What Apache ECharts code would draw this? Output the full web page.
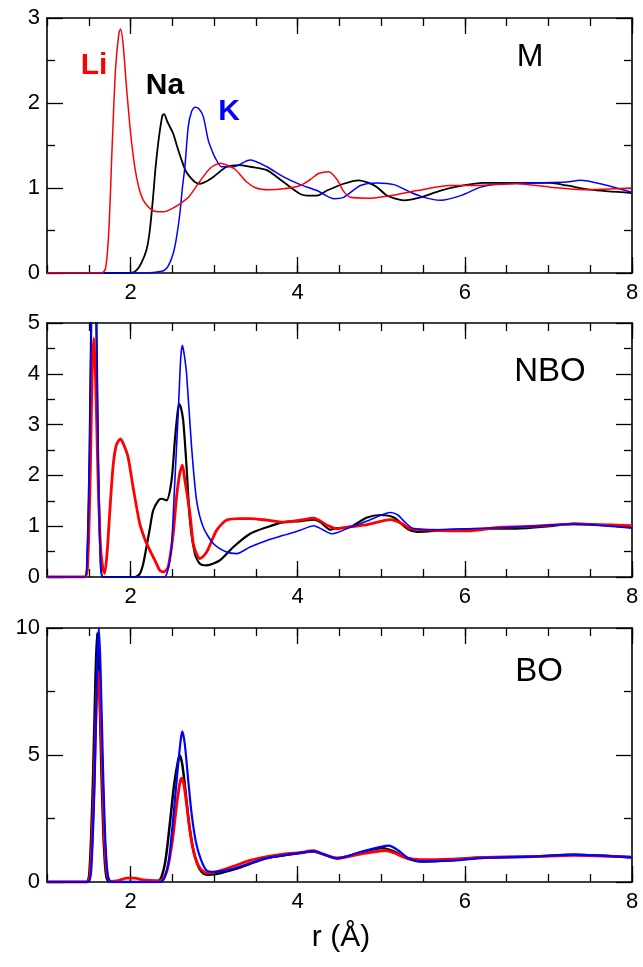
<!DOCTYPE html>
<html>
<head>
<meta charset="utf-8">
<script src="https://cdn.jsdelivr.net/npm/echarts@6/dist/echarts.min.js"></script>
<style>
html,body{margin:0;padding:0;background:#fff;}
#c{width:643px;height:967px;}
</style>
</head>
<body>
<div id="c"></div>
<script>
// ---- Data (r in Å, g(r)) ----
const xLabelValues = [2, 4, 6, 8];
const panelNames = ['M', 'NBO', 'BO'];
const yMaxes = [3, 5, 10];
const yIntervals = [1, 1, 5];

// Panel M
const mLi = [[1.0,0],[1.65,0],[1.70,0.05],[1.74,0.5],[1.78,1.5],[1.82,2.4],[1.86,2.82],[1.88,2.87],[1.91,2.7],[1.95,2.2],[2.0,1.65],[2.05,1.25],[2.10,1.0],[2.15,0.86],[2.23,0.76],[2.32,0.72],[2.40,0.72],[2.50,0.76],[2.60,0.82],[2.70,0.9],[2.83,1.08],[2.95,1.23],[3.07,1.29],[3.15,1.27],[3.25,1.22],[3.39,1.07],[3.50,1.0],[3.65,0.98],[3.83,0.99],[4.03,1.03],[4.15,1.1],[4.25,1.17],[4.37,1.19],[4.47,1.1],[4.55,0.96],[4.63,0.89],[4.83,0.88],[5.11,0.91],[5.43,0.97],[5.82,1.03],[6.14,1.03],[6.62,1.05],[7.02,1.01],[7.42,0.98],[8.0,1.0]];
const mNa = [[1.0,0],[2.0,0],[2.07,0.03],[2.13,0.12],[2.19,0.27],[2.23,0.5],[2.27,0.9],[2.30,1.25],[2.34,1.6],[2.38,1.85],[2.40,1.87],[2.44,1.78],[2.51,1.64],[2.56,1.48],[2.61,1.33],[2.66,1.2],[2.71,1.13],[2.77,1.07],[2.83,1.05],[2.91,1.08],[2.99,1.13],[3.15,1.25],[3.3,1.27],[3.43,1.25],[3.63,1.21],[3.83,1.07],[4.03,0.93],[4.15,0.91],[4.23,0.91],[4.35,0.97],[4.55,1.05],[4.73,1.09],[4.85,1.06],[4.95,1.01],[5.07,0.91],[5.27,0.855],[5.47,0.89],[5.71,0.97],[5.98,1.03],[6.22,1.06],[6.62,1.06],[7.02,1.06],[7.22,1.03],[7.50,0.98],[8.0,0.94]];
const mK = [[1.0,0],[2.1,0],[2.3,0.01],[2.40,0.03],[2.45,0.08],[2.51,0.23],[2.55,0.42],[2.59,0.70],[2.62,1.0],[2.65,1.25],[2.69,1.72],[2.73,1.9],[2.77,1.95],[2.82,1.93],[2.87,1.84],[2.93,1.56],[2.97,1.45],[3.01,1.36],[3.09,1.25],[3.23,1.25],[3.43,1.33],[3.63,1.25],[3.83,1.13],[4.03,1.04],[4.23,0.97],[4.43,0.875],[4.55,0.89],[4.75,1.03],[4.95,1.06],[5.15,1.04],[5.35,0.95],[5.51,0.89],[5.71,0.855],[5.95,0.91],[6.19,1.01],[6.43,1.05],[6.82,1.06],[7.22,1.07],[7.38,1.09],[7.62,1.05],[8.0,0.95]];

// Panel NBO
const nboLi = [[1.0,0],[1.45,0],[1.49,0.4],[1.52,2.2],[1.54,4.0],[1.56,4.7],[1.58,4.0],[1.61,2.0],[1.64,0.6],[1.67,0.15],[1.69,0.07],[1.72,0.5],[1.75,1.25],[1.79,2.17],[1.83,2.6],[1.88,2.72],[1.92,2.6],[1.97,2.36],[2.03,1.77],[2.11,1.05],[2.17,0.75],[2.23,0.53],[2.30,0.3],[2.35,0.13],[2.40,0.1],[2.45,0.2],[2.51,0.85],[2.55,1.57],[2.59,2.05],[2.62,2.2],[2.65,1.9],[2.67,1.7],[2.71,1.25],[2.75,0.66],[2.79,0.45],[2.83,0.36],[2.91,0.49],[3.03,0.92],[3.15,1.12],[3.30,1.15],[3.43,1.15],[3.63,1.12],[3.83,1.08],[4.03,1.12],[4.19,1.16],[4.35,1.02],[4.47,0.95],[4.63,0.99],[4.83,1.03],[5.11,1.13],[5.25,1.05],[5.35,0.95],[5.63,0.92],[6.03,0.91],[6.43,0.98],[6.82,1.0],[7.30,1.04],[8.0,1.01]];
const nboNa = [[1.0,0],[1.45,0],[1.48,0.3],[1.51,2.5],[1.54,6.5],[1.56,8],[1.58,6.5],[1.61,2.5],[1.64,0.4],[1.67,0],[2.05,0],[2.11,0.06],[2.15,0.25],[2.19,0.59],[2.23,0.95],[2.27,1.31],[2.33,1.5],[2.37,1.54],[2.43,1.51],[2.49,1.9],[2.53,2.69],[2.56,3.2],[2.58,3.41],[2.60,3.35],[2.63,3.08],[2.67,2.17],[2.71,1.12],[2.77,0.46],[2.83,0.26],[2.91,0.23],[3.07,0.33],[3.23,0.59],[3.43,0.85],[3.63,0.98],[3.83,1.08],[4.03,1.1],[4.19,1.13],[4.27,1.08],[4.39,0.93],[4.43,0.95],[4.63,0.99],[4.83,1.17],[4.99,1.22],[5.15,1.17],[5.31,0.95],[5.43,0.89],[5.83,0.93],[6.23,0.95],[6.62,0.95],[7.02,1.0],[7.30,1.05],[8.0,0.98]];
const nboK = [[1.0,0],[1.45,0],[1.48,0.3],[1.51,2.5],[1.54,6.5],[1.56,8],[1.58,6.5],[1.61,2.5],[1.64,0.4],[1.67,0],[2.40,0],[2.43,0.05],[2.46,0.25],[2.49,0.59],[2.53,1.9],[2.57,3.22],[2.60,4.3],[2.62,4.56],[2.64,4.4],[2.67,4.0],[2.73,2.56],[2.79,1.51],[2.87,0.98],[2.99,0.66],[3.15,0.49],[3.27,0.46],[3.43,0.59],[3.63,0.72],[3.83,0.82],[4.03,0.92],[4.19,1.01],[4.30,0.93],[4.41,0.85],[4.63,0.98],[4.83,1.1],[5.11,1.27],[5.20,1.22],[5.27,1.1],[5.39,0.95],[5.63,0.93],[6.03,0.95],[6.43,0.97],[6.82,1.0],[7.30,1.04],[8.0,0.96]];

// Panel BO
const boLi = [[1.0,0],[1.48,0],[1.52,0.5],[1.56,3.5],[1.59,7.0],[1.61,8.3],[1.63,7.5],[1.66,4.5],[1.69,1.5],[1.72,0.3],[1.76,0.02],[1.85,0.05],[1.95,0.15],[2.05,0.15],[2.15,0.08],[2.3,0.05],[2.38,0.1],[2.44,0.5],[2.50,1.6],[2.55,3.0],[2.59,3.9],[2.61,4.09],[2.64,3.8],[2.68,2.8],[2.72,1.8],[2.77,1.0],[2.83,0.55],[2.91,0.35],[3.0,0.38],[3.23,0.62],[3.43,0.85],[3.63,1.0],[3.83,1.1],[4.03,1.16],[4.19,1.23],[4.30,1.1],[4.47,0.94],[4.75,1.1],[5.05,1.24],[5.15,1.15],[5.30,0.95],[5.47,0.88],[5.83,0.9],[6.23,0.97],[6.82,1.0],[7.30,1.05],[8.0,0.98]];
const boNa = [[1.0,0],[1.47,0],[1.51,0.5],[1.55,4.0],[1.58,8.0],[1.60,9.8],[1.62,8.5],[1.65,4.5],[1.68,1.5],[1.71,0.2],[1.75,0],[2.32,0],[2.37,0.2],[2.42,0.9],[2.47,2.3],[2.52,3.8],[2.57,4.8],[2.59,4.98],[2.62,4.6],[2.66,3.5],[2.70,2.3],[2.75,1.27],[2.80,0.7],[2.85,0.4],[2.91,0.29],[3.0,0.3],[3.23,0.49],[3.43,0.72],[3.63,0.94],[3.83,1.05],[4.03,1.14],[4.19,1.2],[4.30,1.1],[4.47,0.94],[4.75,1.15],[5.01,1.34],[5.15,1.2],[5.30,0.94],[5.47,0.81],[5.83,0.86],[6.23,0.97],[6.82,1.0],[7.30,1.07],[8.0,0.97]];
const boK = [[1.0,0],[1.49,0],[1.53,0.5],[1.57,4.0],[1.60,8.5],[1.62,10.0],[1.64,8.5],[1.67,4.5],[1.70,1.5],[1.73,0.2],[1.77,0],[2.36,0],[2.41,0.2],[2.46,0.9],[2.51,2.5],[2.56,4.3],[2.60,5.6],[2.62,5.93],[2.65,5.4],[2.69,4.0],[2.73,2.7],[2.78,1.6],[2.84,0.9],[2.91,0.45],[3.0,0.4],[3.23,0.52],[3.43,0.74],[3.63,0.94],[3.83,1.05],[4.03,1.15],[4.19,1.22],[4.30,1.1],[4.47,0.92],[4.75,1.18],[5.09,1.43],[5.20,1.25],[5.32,0.95],[5.47,0.81],[5.83,0.84],[6.23,0.95],[6.82,1.0],[7.30,1.08],[8.0,0.97]];

// ---- Layout / styles ----
const FONT = "'Liberation Sans', Arial, sans-serif";
const gridTops = [18, 323, 628];
const gridHeights = [255, 254, 254];
const RED = '#ff0000', BLACK = '#000000', BLUE = '#0000ff';
const panelSeries = [
  [{d: mNa, c: BLACK, w: 1.8}, {d: mK, c: BLUE, w: 1.5}, {d: mLi, c: RED, w: 1.5}],
  [{d: nboNa, c: BLACK, w: 2.2}, {d: nboLi, c: RED, w: 2.8}, {d: nboK, c: BLUE, w: 1.6}],
  [{d: boNa, c: BLACK, w: 2.5}, {d: boLi, c: RED, w: 2.8}, {d: boK, c: BLUE, w: 2.2}]
];

const axisLineStyle = {color: '#000', width: 1.6};
const tickStyle = {color: '#000', width: 1.3};
const grids = [], xAxes = [], yAxes = [], series = [];

for (let g = 0; g < 3; g++) {
  grids.push({left: 47, right: 11, top: gridTops[g], height: gridHeights[g], containLabel: false});
  const xBase = {gridIndex: g, type: 'value', min: 1, max: 8, splitLine: {show: false}};
  // bottom minor ticks + labels
  xAxes.push(Object.assign({}, xBase, {
    position: 'bottom', interval: 0.5,
    axisLine: {show: true, lineStyle: axisLineStyle, onZero: false},
    axisTick: {show: true, inside: true, length: 8, lineStyle: tickStyle},
    axisLabel: {show: true, customValues: xLabelValues, color: '#000', fontSize: 22, fontFamily: FONT, margin: 9}
  }));
  // bottom major ticks at 2,4,6,8
  xAxes.push(Object.assign({}, xBase, {
    position: 'bottom',
    axisLine: {show: false, onZero: false},
    axisTick: {show: true, inside: true, length: 16, customValues: xLabelValues, lineStyle: tickStyle},
    axisLabel: {show: false}
  }));
  // top minor ticks
  xAxes.push(Object.assign({}, xBase, {
    position: 'top', interval: 0.5,
    axisLine: {show: true, lineStyle: axisLineStyle, onZero: false},
    axisTick: {show: true, inside: true, length: 8, lineStyle: tickStyle},
    axisLabel: {show: false}
  }));
  // top major ticks
  xAxes.push(Object.assign({}, xBase, {
    position: 'top',
    axisLine: {show: false, onZero: false},
    axisTick: {show: true, inside: true, length: 16, customValues: xLabelValues, lineStyle: tickStyle},
    axisLabel: {show: false}
  }));
  const yBase = {gridIndex: g, type: 'value', min: 0, max: yMaxes[g], interval: yIntervals[g], splitLine: {show: false},
    axisLine: {show: true, lineStyle: axisLineStyle, onZero: false},
    axisTick: {show: true, inside: true, length: 16, lineStyle: tickStyle},
    minorTick: {show: true, splitNumber: 2, length: 8, lineStyle: tickStyle}
  };
  yAxes.push(Object.assign({}, yBase, {
    position: 'left',
    axisLabel: {show: true, color: '#000', fontSize: 22, fontFamily: FONT, margin: 7}
  }));
  yAxes.push(Object.assign({}, yBase, {
    position: 'right',
    axisLabel: {show: false}
  }));
  panelSeries[g].forEach(s => {
    series.push({
      type: 'line', xAxisIndex: g * 4, yAxisIndex: g * 2, data: s.d,
      showSymbol: false, smooth: 0.25, clip: true,
      lineStyle: {color: s.c, width: s.w}, itemStyle: {color: s.c},
      silent: true
    });
  });
}

const texts = [
  {x: 530, y: 57, t: panelNames[0], size: 32, color: '#000', bold: false},
  {x: 550, y: 372, t: panelNames[1], size: 33, color: '#000', bold: false},
  {x: 539, y: 672, t: panelNames[2], size: 33, color: '#000', bold: false},
  {x: 94, y: 66, t: 'Li', size: 30, color: RED, bold: true},
  {x: 165, y: 86, t: 'Na', size: 30, color: BLACK, bold: true},
  {x: 229, y: 112, t: 'K', size: 30, color: BLUE, bold: true},
  {x: 341, y: 938, t: 'r (Å)', size: 30, color: '#000', bold: false}
];

const chart = echarts.init(document.getElementById('c'), null, {renderer: 'canvas'});
chart.setOption({
  animation: false,
  backgroundColor: '#fff',
  grid: grids,
  xAxis: xAxes,
  yAxis: yAxes,
  series: series,
  graphic: texts.map(o => ({
    type: 'text', x: o.x, y: o.y, z: 100,
    style: {text: o.t, fill: o.color, fontSize: o.size, fontFamily: FONT,
      fontWeight: o.bold ? 'bold' : 'normal', textAlign: 'center', textVerticalAlign: 'middle'}
  }))
});
</script>
</body>
</html>
